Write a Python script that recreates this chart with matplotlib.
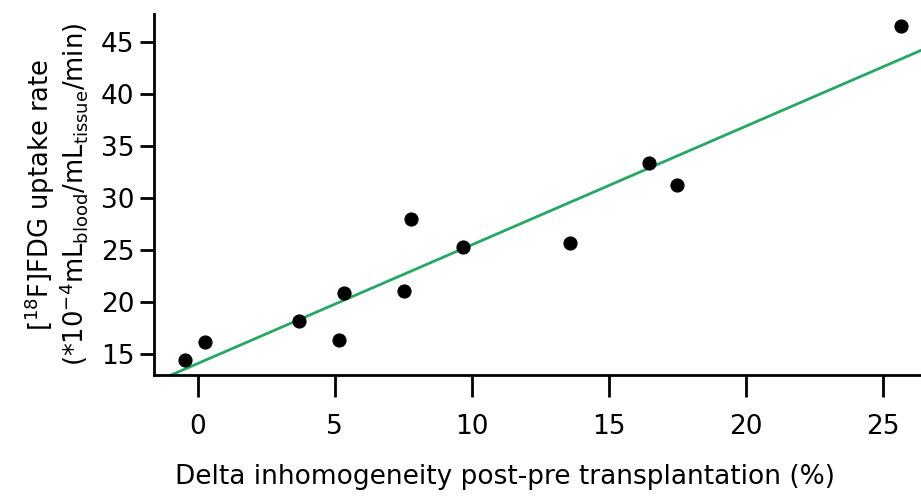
import matplotlib
matplotlib.use("Agg")
import matplotlib.pyplot as plt

# Values
delta_inhom = [-0.47, 0.26, 3.69, 5.15, 5.33, 7.52, 7.77, 9.67, 13.6, 16.46, 17.48, 25.66]
uptake_rate = [14.5, 16.2, 18.2, 16.4, 20.9, 21.1, 28.0, 25.3, 25.7, 33.4, 31.3, 46.5]

# Regression line end points
fit_x = [-1.6, 26.4]
fit_y = [12.3, 44.2]

x_ticks = [0, 5, 10, 15, 20, 25]
y_ticks = [15, 20, 25, 30, 35, 40, 45]

plt.rcParams["mathtext.default"] = "regular"
plt.rcParams["font.family"] = "DejaVu Sans"

fig = plt.figure(figsize=(9.21, 4.97), dpi=100)
ax = fig.add_axes([0.167, 0.245, 0.833, 0.727])

ax.plot(fit_x, fit_y, color="#25a865", linewidth=2, zorder=2)
ax.scatter(delta_inhom, uptake_rate, s=85, color="black", zorder=3)

ax.set_xlim(-1.6, 26.4)
ax.set_ylim(13.0, 47.7)
ax.set_xticks(x_ticks)
ax.set_yticks(y_ticks)

for side in ["top", "right"]:
    ax.spines[side].set_visible(False)
for side in ["left", "bottom"]:
    ax.spines[side].set_linewidth(2)

ax.tick_params(axis="x", length=16, width=2, labelsize=19, pad=12)
ax.tick_params(axis="y", length=10, width=2, labelsize=19, pad=4)

ax.set_xlabel("Delta inhomogeneity post-pre transplantation (%)", fontsize=19)
ax.xaxis.set_label_coords(0.458, -0.245)
ax.set_ylabel("[$^{18}$F]FDG uptake rate\n(*10$^{-4}$mL$_{blood}$/mL$_{tissue}$/min)",
              fontsize=18.5, labelpad=8, linespacing=1.0)

fig.savefig("out.png", dpi=100)
